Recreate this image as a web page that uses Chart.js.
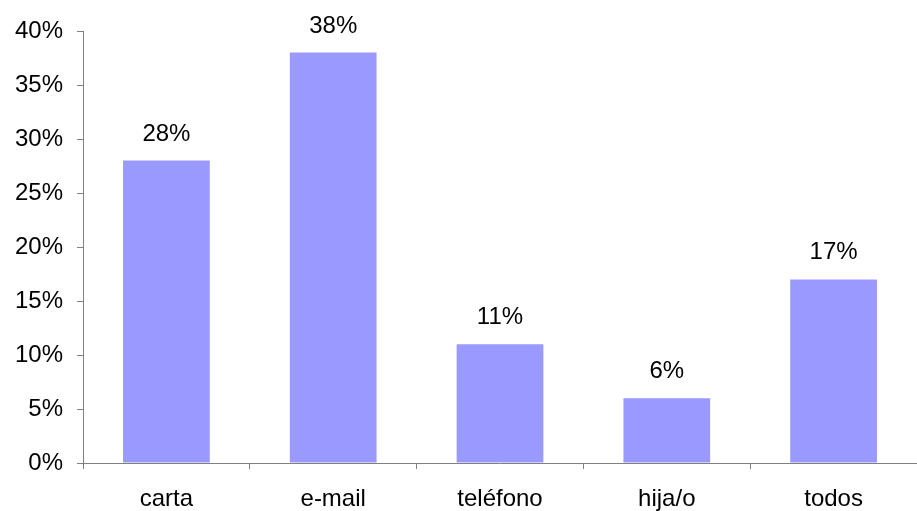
<!DOCTYPE html>
<html>
<head>
<meta charset="utf-8">
<script src="https://cdn.jsdelivr.net/npm/chart.js@4"></script>
<style>
  html, body { margin: 0; padding: 0; background: #fff; }
  #wrap { width: 917px; height: 511px; }
</style>
</head>
<body>
<div id="wrap"><canvas id="chart"></canvas></div>
<script>
const categories = ['carta', 'e-mail', 'teléfono', 'hija/o', 'todos'];
const values = [28, 38, 11, 6, 17];

const font = { family: '"Liberation Sans", Arial, sans-serif', size: 24 };

// labels above bars
const barLabels = {
  id: 'barLabels',
  afterDatasetsDraw(chart) {
    const ctx = chart.ctx;
    const meta = chart.getDatasetMeta(0);
    ctx.save();
    ctx.font = font.size + 'px ' + font.family;
    ctx.fillStyle = '#000';
    ctx.textAlign = 'center';
    ctx.textBaseline = 'alphabetic';
    meta.data.forEach((bar, i) => {
      ctx.fillText(values[i] + '%', bar.x, bar.y - 20);
    });
    ctx.restore();
  }
};

new Chart(document.getElementById('chart'), {
  type: 'bar',
  data: {
    labels: categories,
    datasets: [{
      data: values,
      backgroundColor: '#9999FF',
      categoryPercentage: 1,
      barPercentage: 0.52
    }]
  },
  options: {
    responsive: true,
    maintainAspectRatio: false,
    animation: false,
    layout: { padding: { top: 31, right: 0, left: 0, bottom: 0 } },
    plugins: { legend: { display: false }, tooltip: { enabled: false } },
    scales: {
      x: {
        grid: { offset: true, drawOnChartArea: false, drawTicks: true, tickLength: 6, color: '#808080' },
        border: { display: true, color: '#808080', width: 1 },
        ticks: { color: '#000', font: font, padding: 16 },
        afterFit(scale) { scale.height = 48; }
      },
      y: {
        min: 0,
        max: 40,
        grid: { drawOnChartArea: false, drawTicks: true, tickLength: 6, color: '#808080' },
        border: { display: true, color: '#808080', width: 1 },
        ticks: { stepSize: 5, color: '#000', font: font, padding: 14, callback: v => v + '%' },
        afterFit(scale) { scale.width = 83; }
      }
    }
  },
  plugins: [barLabels]
});
</script>
</body>
</html>
